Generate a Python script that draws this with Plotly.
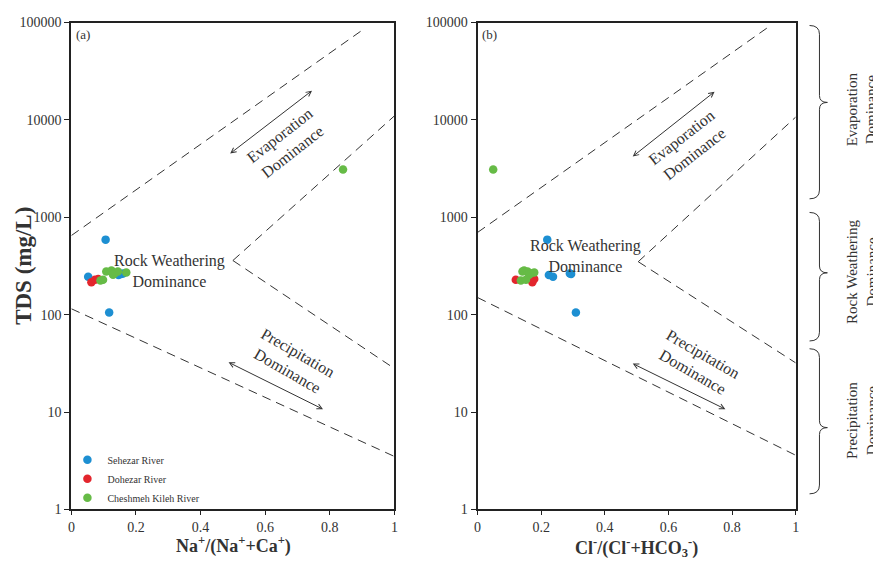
import plotly.graph_objects as go
import numpy as np

W, H = 873, 570

# ---------------- data ----------------
rivers = ["Sehezar River", "Dohezar River", "Cheshmeh Kileh River"]
colors = ["#1d8fd2", "#e3262d", "#66bb46"]

seh_tds = [590, 245, 255, 262, 265, 105]
seh_na = [0.106, 0.052, 0.146, 0.154, 0.160, 0.117]
seh_cl = [0.219, 0.237, 0.224, 0.294, 0.290, 0.309]

doh_tds = [215, 229, 232]
doh_na = [0.062, 0.073, 0.083]
doh_cl = [0.172, 0.120, 0.178]

che_tds = [3100, 277, 284, 267, 277, 257, 224, 229, 271]
che_na = [0.841, 0.108, 0.124, 0.134, 0.144, 0.129, 0.090, 0.098, 0.170]
che_cl = [0.049, 0.141, 0.146, 0.167, 0.157, 0.162, 0.136, 0.152, 0.178]

tds_all = [seh_tds, doh_tds, che_tds]
na_all = [seh_na, doh_na, che_na]
cl_all = [seh_cl, doh_cl, che_cl]

# Gibbs boundary lines (ratio, TDS)
a_upper_x = [0.0, 0.91]
a_upper_y = [650, 88000]
a_mid_up_x = [0.50, 1.0]
a_mid_up_y = [360, 11000]
a_mid_dn_x = [0.50, 1.0]
a_mid_dn_y = [360, 28]
a_lower_x = [0.0, 1.0]
a_lower_y = [115, 3.5]

b_upper_x = [0.0, 0.91]
b_upper_y = [700, 88000]
b_mid_up_x = [0.505, 1.0]
b_mid_up_y = [350, 10700]
b_mid_dn_x = [0.505, 1.0]
b_mid_dn_y = [350, 32]
b_lower_x = [0.0, 1.0]
b_lower_y = [150, 3.6]

x_tickvals = [0, 0.2, 0.4, 0.6, 0.8, 1]
x_ticktext = ["0", "0.2", "0.4", "0.6", "0.8", "1"]
y_tickvals = [1, 10, 100, 1000, 10000, 100000]
y_ticktext = ["1", "10", "100", "1000", "10000", "100000"]

# ---------------- figure ----------------
SERIF = "Liberation Serif"
fig = go.Figure()

for name, col, tds, na, cl in zip(rivers, colors, tds_all, na_all, cl_all):
    fig.add_trace(go.Scatter(x=na, y=tds, mode="markers", name=name,
                             marker=dict(color=col, size=8.5, line=dict(width=0)),
                             xaxis="x", yaxis="y", showlegend=True))
    fig.add_trace(go.Scatter(x=cl, y=tds, mode="markers", name=name,
                             marker=dict(color=col, size=8.5, line=dict(width=0)),
                             xaxis="x2", yaxis="y2", showlegend=False))

dash_line = dict(color="#333333", width=1, dash="9px,6px")
for xs, ys in [(a_upper_x, a_upper_y), (a_mid_up_x, a_mid_up_y),
               (a_mid_dn_x, a_mid_dn_y), (a_lower_x, a_lower_y)]:
    fig.add_trace(go.Scatter(x=xs, y=ys, mode="lines", line=dash_line,
                             xaxis="x", yaxis="y", showlegend=False, hoverinfo="skip"))
for xs, ys in [(b_upper_x, b_upper_y), (b_mid_up_x, b_mid_up_y),
               (b_mid_dn_x, b_mid_dn_y), (b_lower_x, b_lower_y)]:
    fig.add_trace(go.Scatter(x=xs, y=ys, mode="lines", line=dash_line,
                             xaxis="x2", yaxis="y2", showlegend=False, hoverinfo="skip"))

# geometry
def px2paper_x(px):
    return px / W

def px2paper_y(py):
    return 1 - py / H

top_px, bot_px = 16, 516
ydom = [px2paper_y(bot_px), px2paper_y(top_px)]
xdom1 = [px2paper_x(68), px2paper_x(394)]
xdom2 = [px2paper_x(478), px2paper_x(799)]

tickfont = dict(family=SERIF, size=14, color="#333333")
common_x = dict(range=[0, 1], tickvals=x_tickvals, ticktext=x_ticktext,
                showgrid=False, zeroline=False, showline=True, linewidth=2,
                linecolor="#222222", mirror=True, ticks="outside", ticklen=4,
                tickcolor="#222222", tickfont=tickfont)
common_y = dict(type="log", range=[0, 5], tickvals=y_tickvals, ticktext=y_ticktext,
                showgrid=False, zeroline=False, showline=True, linewidth=2,
                linecolor="#222222", mirror=True, ticks="outside", ticklen=5,
                tickcolor="#222222", tickfont=tickfont)

fig.update_layout(
    width=W, height=H,
    margin=dict(l=0, r=0, t=0, b=0),
    font=dict(family=SERIF, color="#333333"),
    paper_bgcolor="white", plot_bgcolor="white",
    xaxis=dict(domain=xdom1, anchor="y", **common_x),
    yaxis=dict(domain=ydom, anchor="x", **common_y),
    xaxis2=dict(domain=xdom2, anchor="y2", **common_x),
    yaxis2=dict(domain=ydom, anchor="x2", **common_y),
    showlegend=True,
    legend=dict(x=px2paper_x(64), y=px2paper_y(450), xanchor="left", yanchor="top",
                bgcolor="rgba(0,0,0,0)", font=dict(family=SERIF, size=10, color="#333333"),
                itemwidth=30, tracegroupgap=0),
)

annotations = []

def txt(x, y, text, xref, yref, size=16, angle=0, **kw):
    d = dict(x=x, y=y, xref=xref, yref=yref, text=text, showarrow=False,
             textangle=angle, font=dict(family=SERIF, size=size, color="#333333"),
             xanchor="center", yanchor="middle", align="center")
    d.update(kw)
    annotations.append(d)

def arrow(x0, y0, x1, y1, xref, yref):
    annotations.append(dict(x=x1, y=np.log10(y1), ax=x0, ay=np.log10(y0),
                            xref=xref, yref=yref, axref=xref, ayref=yref,
                            text="", showarrow=True, arrowhead=5, startarrowhead=5,
                            arrowside="end+start", arrowsize=1, startarrowsize=1,
                            arrowwidth=1, arrowcolor="#333333", standoff=0, startstandoff=0))

# panel labels
txt(0.037, np.log10(76000), "(a)", "x", "y", size=13)
txt(0.037, np.log10(76000), "(b)", "x2", "y2", size=13)

# left panel texts
txt(0.663, np.log10(5700), "Evaporation<br>Dominance", "x", "y", angle=-38)
txt(0.304, np.log10(282), "Rock Weathering<br>Dominance", "x", "y")
txt(0.686, np.log10(33), "Precipitation<br>Dominance", "x", "y", angle=30)
arrow(0.487, 4400, 0.745, 20000, "x", "y")
arrow(0.482, 33, 0.779, 10.7, "x", "y")

# right panel texts
txt(0.660, np.log10(5400), "Evaporation<br>Dominance", "x2", "y2", angle=-38)
txt(0.340, np.log10(400), "Rock Weathering<br>Dominance", "x2", "y2")
txt(0.692, np.log10(32), "Precipitation<br>Dominance", "x2", "y2", angle=30)
arrow(0.483, 4100, 0.745, 19500, "x2", "y2")
arrow(0.483, 32, 0.779, 10.7, "x2", "y2")

# axis titles
txt(px2paper_x(19), px2paper_y(266), "<b>TDS (mg/L)</b>", "paper", "paper", size=23, angle=-90)
txt(px2paper_x(232), px2paper_y(553), "<b>Na<sup>+</sup>/(Na<sup>+</sup>+Ca<sup>+</sup>)</b>",
    "paper", "paper", size=18)
txt(px2paper_x(638), px2paper_y(555), "<b>Cl<sup>-</sup>/(Cl<sup>-</sup>+HCO<sub>3</sub><sup>-</sup>)</b>",
    "paper", "paper", size=18)

# right-side braces + labels
shapes = []
def brace(y1, y2, ym, xl=823, xe=813, xt=831):
    P = lambda x, y: f"{px2paper_x(x):.5f},{px2paper_y(y):.5f}"
    path = (f"M {P(xe, y1)} Q {P(xl, y1)} {P(xl, y1 + 9)} L {P(xl, ym - 7)} "
            f"Q {P(xl, ym)} {P(xt, ym)} Q {P(xl, ym)} {P(xl, ym + 7)} "
            f"L {P(xl, y2 - 9)} Q {P(xl, y2)} {P(xe, y2)}")
    shapes.append(dict(type="path", path=path, xref="paper", yref="paper",
                       line=dict(color="#333333", width=1)))

brace(19, 197, 98)
brace(211, 343, 273)
brace(351, 500, 432)
txt(px2paper_x(866), px2paper_y(105), "Evaporation<br>Dominance", "paper", "paper", size=15, angle=-90)
txt(px2paper_x(866), px2paper_y(272), "Rock Weathering<br>Dominance", "paper", "paper", size=15, angle=-90)
txt(px2paper_x(866), px2paper_y(425), "Precipitation<br>Dominance", "paper", "paper", size=15, angle=-90)

fig.update_layout(annotations=annotations, shapes=shapes)
fig.write_html("out.html")
